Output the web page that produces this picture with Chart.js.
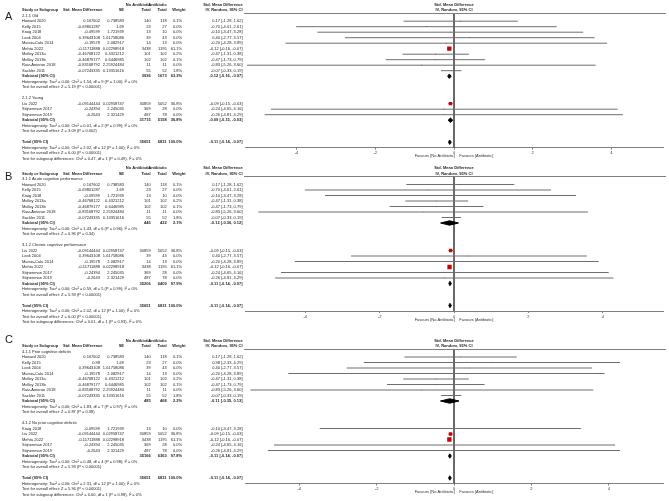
<!DOCTYPE html>
<html>
<head>
<meta charset="utf-8">
<script src="https://cdn.jsdelivr.net/npm/chart.js@4.4.1/dist/chart.umd.min.js"></script>
<style>
  html, body { margin: 0; padding: 0; background: #fff; }
  #wrap { position: relative; width: 669px; height: 501px; }
  canvas { position: absolute; left: 0; top: 0; }
</style>
</head>
<body>
<div id="wrap">
  <canvas id="panelA" width="669" height="501"></canvas>
  <canvas id="panelB" width="669" height="501"></canvas>
  <canvas id="panelC" width="669" height="501"></canvas>
</div>
<script>
// studies (last entry = Kelly 2015 as entered in panel C)
const studyNames = ['Howard 2020', 'Kelly 2015', 'Kraig 2018', 'Look 2004', 'Matsia-Calu 2014', 'Mehta 2022',
  'Molloy 2013a', 'Molloy 2013b', 'Ruiz-Antoran 2018', 'Sackler 2011', 'Liu 2022', 'Stijnenman 2017',
  'Stijnenman 2019', 'Kelly 2015'];
const smdText = ['0.167602', '-0.69801287', '-0.09599', '0.39643108', '-0.19578', '-0.11711888', '-0.46768122',
  '-0.46879177', '-0.83168792', '-0.07243335', '-0.09144444', '-0.24394', '-0.2643', '0.98'];
const seText = ['0.738583', '1.69', '1.721939', '1.61758086', '2.082917', '0.02298918', '0.4321212',
  '0.6446985', '2.25924484', '0.13351616', '0.02958747', '2.245035', '2.321429', '1.69'];
const nNoAb = [140, 23, 13, 39, 14, 3438, 101, 102, 11, 55, 30859, 369, 487, 23];
const nAb = [118, 27, 10, 43, 13, 1195, 102, 102, 11, 52, 5052, 28, 78, 27];
const weights = [0.1, 0.0, 0.0, 0.0, 0.0, 61.1, 0.2, 0.1, 0.0, 1.8, 36.8, 0.0, 0.0, 0.0];
const est = [0.17, -0.70, -0.10, 0.40, -0.20, -0.12, -0.47, -0.47, -0.83, -0.07, -0.09, -0.24, -0.26, 0.98];
const lower = [-1.28, -4.01, -3.47, -2.77, -4.28, -0.16, -1.31, -1.73, -5.26, -0.33, -0.15, -4.65, -4.81, -2.33];
const upper = [1.62, 2.61, 3.28, 3.57, 3.89, -0.07, 0.38, 0.79, 3.60, 0.19, -0.03, 4.16, 4.29, 4.29];

// panels and subgroups
const panelLetters = ['A', 'B', 'C'];
const groupTitles = [
  ['2.1.1 Old', '2.1.2 Young'],
  ['3.1.1 Acute cognitive performance', '3.1.2 Chronic cognitive performance'],
  ['4.1.1 Prior cognitive deficits', '4.1.2 No prior cognitive deficits']
];
const groupStudies = [
  [[0, 1, 2, 3, 4, 5, 6, 7, 8, 9], [10, 11, 12]],
  [[0, 1, 2, 6, 7, 8, 9], [10, 3, 4, 5, 11, 12]],
  [[0, 13, 3, 4, 6, 7, 8, 9], [2, 10, 5, 11, 12]]
];
const subNoAb = [[3936, 31715], [445, 35206], [485, 35166]];
const subAb = [[1673, 5158], [422, 6409], [468, 6363]];
const subWeight = [[63.2, 36.8], [2.1, 97.9], [2.2, 97.8]];
const subEst = [[-0.12, -0.09], [-0.12, -0.11], [-0.11, -0.11]];
const subLower = [[-0.16, -0.15], [-0.36, -0.14], [-0.35, -0.14]];
const subUpper = [[-0.07, -0.03], [0.12, -0.07], [0.13, -0.07]];
const subHet = [
  ['Heterogeneity: Tau² = 0.00; Chi² = 1.54, df = 9 (P = 1.00); I² = 0%', 'Heterogeneity: Tau² = 0.00; Chi² = 0.01, df = 2 (P = 0.99); I² = 0%'],
  ['Heterogeneity: Tau² = 0.00; Chi² = 1.43, df = 6 (P = 0.96); I² = 0%', 'Heterogeneity: Tau² = 0.00; Chi² = 0.59, df = 5 (P = 0.99); I² = 0%'],
  ['Heterogeneity: Tau² = 0.00; Chi² = 1.83, df = 7 (P = 0.97); I² = 0%', 'Heterogeneity: Tau² = 0.00; Chi² = 0.48, df = 4 (P = 0.98); I² = 0%']
];
const subTest = [
  ['Test for overall effect: Z = 5.19 (P < 0.00001)', 'Test for overall effect: Z = 3.09 (P = 0.002)'],
  ['Test for overall effect: Z = 0.96 (P = 0.34)', 'Test for overall effect: Z = 5.93 (P < 0.00001)'],
  ['Test for overall effect: Z = 0.87 (P = 0.38)', 'Test for overall effect: Z = 5.93 (P < 0.00001)']
];
const overallNoAb = 35651;
const overallAb = 6831;
const overallEst = -0.11, overallLower = -0.14, overallUpper = -0.07;
const totalHet = [
  'Heterogeneity: Tau² = 0.00; Chi² = 2.02, df = 12 (P = 1.00); I² = 0%',
  'Heterogeneity: Tau² = 0.00; Chi² = 2.02, df = 12 (P = 1.00); I² = 0%',
  'Heterogeneity: Tau² = 0.00; Chi² = 2.31, df = 12 (P = 1.00); I² = 0%'
];
const totalTest = [
  'Test for overall effect: Z = 6.00 (P < 0.00001)',
  'Test for overall effect: Z = 6.00 (P < 0.00001)',
  'Test for overall effect: Z = 5.96 (P < 0.00001)'
];
const subgroupTest = [
  'Test for subgroup differences: Chi² = 0.47, df = 1 (P = 0.49), I² = 0%',
  'Test for subgroup differences: Chi² = 0.01, df = 1 (P = 0.93), I² = 0%',
  'Test for subgroup differences: Chi² = 0.00, df = 1 (P = 0.98), I² = 0%'
];
const xTicks = [-4, -2, 0, 2, 4];

// layout
const FAMILY = '"Liberation Sans", Arial, sans-serif';
const panelTop = [12.95, 176.25, 348.75];
const xHalfRange = [5.31, 5.62, 5.40];
const letterRow = [0.78, 0.2, -1.55];
const ROW_H = 5.5;
const COL = { name: 22, smd: 100, se: 124, nNo: 150.7, nAb: 166.7, w: 182, ci: 242.5 };

const f2 = v => v.toFixed(2);
const ciText = (e, l, u) => f2(e) + ' [' + f2(l) + ', ' + f2(u) + ']';

function diamond(e, l, u, r) {
  return {
    type: 'line', order: 0,
    data: [{ x: l, y: r }, { x: e, y: r - 0.4 }, { x: u, y: r }, { x: e, y: r + 0.4 }, { x: l, y: r }],
    borderColor: '#000', backgroundColor: '#000', borderWidth: 1, fill: 'shape',
    pointRadius: 0, tension: 0
  };
}

function drawTable(chart, p, rows) {
  const ctx = chart.ctx, ys = chart.scales.y, xs = chart.scales.x, area = chart.chartArea;
  const Y = r => ys.getPixelForValue(r);
  const put = (s, x, r, align, bold) => {
    ctx.font = (bold ? 'bold ' : '') + '4px ' + FAMILY;
    ctx.textAlign = align;
    ctx.fillText(s, x, Y(r));
  };
  ctx.save();
  ctx.fillStyle = '#1e1e1e';
  ctx.font = '11px ' + FAMILY;
  ctx.textAlign = 'left';
  ctx.textBaseline = 'alphabetic';
  ctx.fillText(panelLetters[p], 5, Y(letterRow[p]));

  ctx.textBaseline = 'middle';
  put('No Antibiotic', COL.nNo, -2, 'right', true);
  put('Antibiotic', COL.nAb, -2, 'right', true);
  put('Std. Mean Difference', 223, -2, 'center', true);
  put('Study or Subgroup', COL.name, -1, 'left', true);
  put('Std. Mean Difference', 63, -1, 'left', true);
  put('SE', COL.se, -1, 'right', true);
  put('Total', COL.nNo, -1, 'right', true);
  put('Total', COL.nAb, -1, 'right', true);
  put('Weight', 185.5, -1, 'right', true);
  put('IV, Random, 95% CI', COL.ci, -1, 'right', true);
  const zx = xs.getPixelForValue(0);
  put('Std. Mean Difference', zx, -2, 'center', true);
  put('IV, Random, 95% CI', zx, -1, 'center', true);

  rows.forEach(row => {
    if (row.kind === 'text') {
      put(row.text, COL.name, row.r, 'left', false);
    } else if (row.kind === 'study') {
      const i = row.i;
      put(studyNames[i], COL.name, row.r, 'left', false);
      put(smdText[i], COL.smd, row.r, 'right', false);
      put(seText[i], COL.se, row.r, 'right', false);
      put(String(nNoAb[i]), COL.nNo, row.r, 'right', false);
      put(String(nAb[i]), COL.nAb, row.r, 'right', false);
      put(weights[i].toFixed(1) + '%', COL.w, row.r, 'right', false);
      put(ciText(est[i], lower[i], upper[i]), COL.ci, row.r, 'right', false);
    } else if (row.kind === 'sum') {
      put(row.label, COL.name, row.r, 'left', true);
      put(String(row.nNo), COL.nNo, row.r, 'right', true);
      put(String(row.nAb), COL.nAb, row.r, 'right', true);
      put(row.w.toFixed(1) + '%', COL.w, row.r, 'right', true);
      put(ciText(row.e, row.l, row.u), COL.ci, row.r, 'right', true);
    }
  });

  ctx.strokeStyle = '#808080';
  ctx.lineWidth = 1;
  const ry = Math.round(area.top) + 0.5;
  ctx.beginPath();
  ctx.moveTo(244, ry);
  ctx.lineTo(666, ry);
  ctx.stroke();
  ctx.restore();
}

function makePanel(p) {
  const rows = [];
  const datasets = [];
  const sqData = [], sqSize = [];
  let r = 0;

  datasets.push({
    type: 'line', order: 3, data: [{ x: 0, y: -0.5 }, { x: 0, y: 24 }],
    borderColor: '#555', borderWidth: 1, pointRadius: 0
  });

  groupStudies[p].forEach((ids, g) => {
    rows.push({ r: r++, kind: 'text', text: groupTitles[p][g] });
    ids.forEach(i => {
      rows.push({ r: r, kind: 'study', i: i });
      datasets.push({
        type: 'line', order: 2, data: [{ x: lower[i], y: r }, { x: upper[i], y: r }],
        borderColor: '#6e6e6e', borderWidth: 1, pointRadius: 0
      });
      sqData.push({ x: est[i], y: r });
      sqSize.push(Math.max(0.5, 0.39 * Math.sqrt(weights[i])));
      r++;
    });
    rows.push({ r: r, kind: 'sum', label: 'Subtotal (95% CI)', nNo: subNoAb[p][g], nAb: subAb[p][g],
      w: subWeight[p][g], e: subEst[p][g], l: subLower[p][g], u: subUpper[p][g] });
    datasets.push(diamond(subEst[p][g], subLower[p][g], subUpper[p][g], r));
    r++;
    rows.push({ r: r++, kind: 'text', text: subHet[p][g] });
    rows.push({ r: r++, kind: 'text', text: subTest[p][g] });
    r++;
  });

  rows.push({ r: r, kind: 'sum', label: 'Total (95% CI)', nNo: overallNoAb, nAb: overallAb,
    w: 100, e: overallEst, l: overallLower, u: overallUpper });
  datasets.push(diamond(overallEst, overallLower, overallUpper, r));
  r++;
  rows.push({ r: r++, kind: 'text', text: totalHet[p] });
  rows.push({ r: r++, kind: 'text', text: totalTest[p] });
  rows.push({ r: r++, kind: 'text', text: subgroupTest[p] });

  datasets.push({
    type: 'scatter', order: 1, data: sqData, pointStyle: 'rect', pointRadius: sqSize,
    backgroundColor: '#cc0000', borderWidth: 0
  });

  const top = panelTop[p];
  const bottom = top + 24.5 * ROW_H;
  const R = xHalfRange[p];

  new Chart(document.getElementById('panel' + panelLetters[p]), {
    type: 'line',
    data: { datasets: datasets },
    options: {
      responsive: false,
      animation: false,
      events: [],
      layout: { padding: { left: 245, right: 6, top: top, bottom: 501 - bottom - 11 } },
      plugins: { legend: { display: false }, tooltip: { enabled: false } },
      scales: {
        x: {
          type: 'linear', min: -R, max: R,
          afterBuildTicks: s => { s.ticks = xTicks.map(v => ({ value: v })); },
          afterFit: s => { s.height = 11; },
          grid: { display: true, drawOnChartArea: false, drawTicks: true, tickLength: 2, color: '#808080' },
          border: { display: true, color: '#808080', width: 1 },
          ticks: { font: { size: 4, family: FAMILY }, color: '#333', padding: 1, maxRotation: 0, autoSkip: false },
          title: { display: true, text: 'Favours [No Antibiotic]    Favours [Antibiotic]',
            font: { size: 4, family: FAMILY }, color: '#333', padding: 0 }
        },
        y: { type: 'linear', min: -0.5, max: 24, reverse: true, display: false }
      }
    },
    plugins: [{ id: 'table' + p, afterDraw: chart => drawTable(chart, p, rows) }]
  });
}

[0, 1, 2].forEach(makePanel);
</script>
</body>
</html>
